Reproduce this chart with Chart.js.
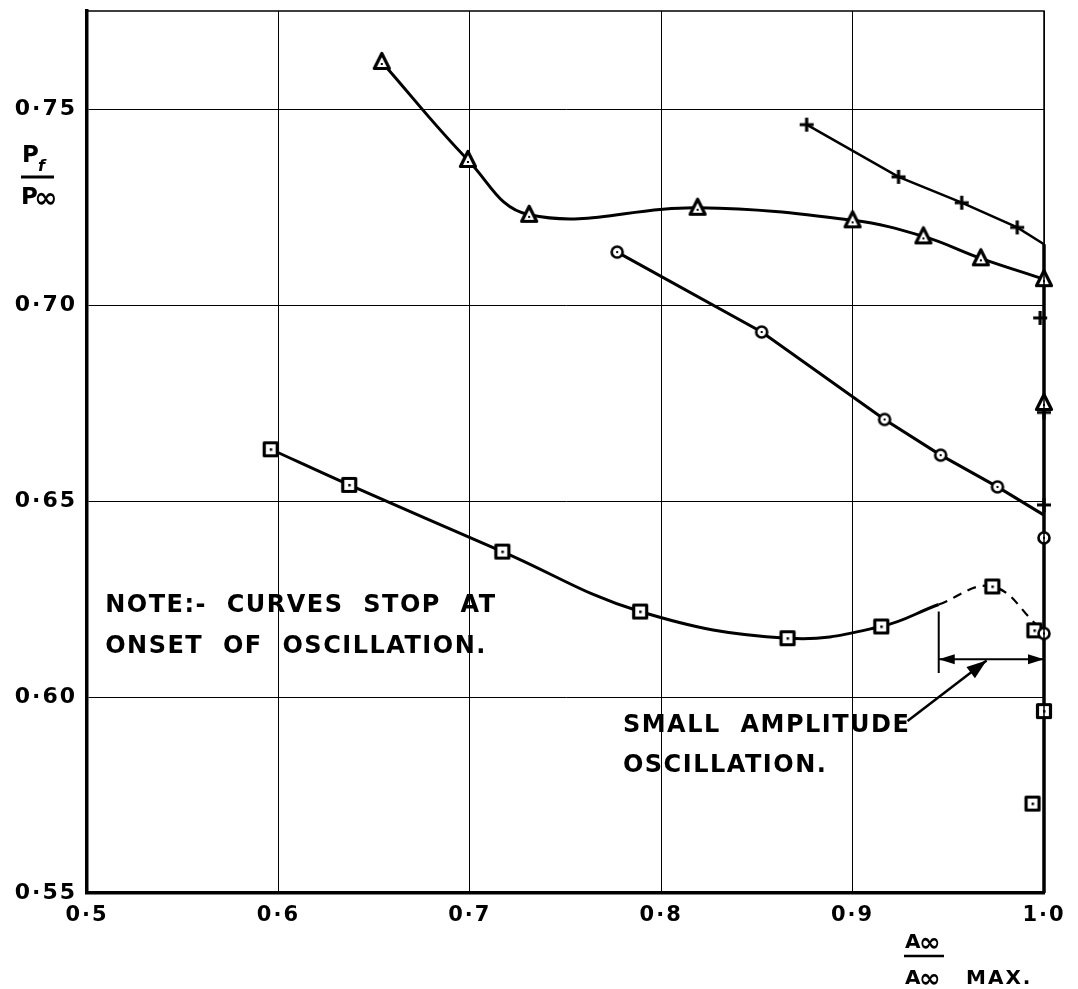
<!DOCTYPE html>
<html>
<head>
<meta charset="utf-8">
<title>Pf / P∞ against A∞ / A∞ max</title>
<script src="https://cdn.jsdelivr.net/npm/chart.js@4.4.1/dist/chart.umd.min.js"></script>
<style>
  body { margin: 0; background: #fff; }
  #wrap { width: 1078px; height: 989px; }
</style>
</head>
<body>
<div id="wrap"><canvas id="pfChart"></canvas></div>
<script>
// --- axis ticks ---
const xTicks = [0.5, 0.6, 0.7, 0.8, 0.9, 1.0];
const xTickLabels = ['0·5', '0·6', '0·7', '0·8', '0·9', '1·0'];
const yTicks = [0.55, 0.60, 0.65, 0.70, 0.75];
const yTickLabels = ['0·55', '0·60', '0·65', '0·70', '0·75'];

// --- triangles (curve up to onset, then the point after onset) ---
const triX = [0.654, 0.699, 0.731, 0.819, 0.900, 0.937, 0.967, 1.0];
const triY = [0.762, 0.737, 0.723, 0.7248, 0.7216, 0.7175, 0.7119, 0.7066];
const triOscX = [1.0];
const triOscY = [0.675];

// --- crosses ---
const plusX = [0.876, 0.924, 0.957, 0.986, 1.0];
const plusY = [0.746, 0.7327, 0.7261, 0.7198, 0.7155];
const plusMark = [1, 1, 1, 1, 0];
const plusOscX = [0.998, 1.0, 1.0];
const plusOscY = [0.6967, 0.6726, 0.649];

// --- circles ---
const cirX = [0.777, 0.8525, 0.9167, 0.946, 0.9757, 1.0];
const cirY = [0.7135, 0.6931, 0.6708, 0.6617, 0.6536, 0.6464];
const cirMark = [1, 1, 1, 1, 1, 0];
const cirOscX = [1.0, 1.0];
const cirOscY = [0.6406, 0.6162];

// --- squares (dashed from index 6 on) ---
const sqX = [0.596, 0.637, 0.717, 0.789, 0.866, 0.915, 0.945, 0.973, 0.997];
const sqY = [0.6632, 0.6541, 0.6371, 0.6218, 0.615, 0.618, 0.6236, 0.6282, 0.618];
const sqMark = [1, 1, 1, 1, 1, 1, 0, 1, 0];
const sqDashFrom = 6;
const sqOscX = [0.995, 1.0, 0.994];
const sqOscY = [0.617, 0.5964, 0.5728];

// --- onset line along A/Amax = 1 ---
const onsetX = [1.0, 1.0];
const onsetY = [0.7155, 0.55];

// --- "small amplitude oscillation" range marker ---
const rangeX = [0.945, 1.0];
const rangeBarY = [0.6061, 0.6218];
const rangeArrowY = 0.6096;
const leaderFrom = [0.9287, 0.5939];
const leaderTo = [0.970, 0.6093];

const FONT = "'DejaVu Sans', sans-serif";

function pts(xs, ys) {
  return xs.map((x, i) => ({ x: x, y: ys[i] }));
}

function radii(marks) {
  return marks.map(m => m ? 8 : 0);
}

// little marker images, drawn like the hand plotted symbols
function makeMarker(kind) {
  const s = 22;
  const c = document.createElement('canvas');
  c.width = s; c.height = s;
  const g = c.getContext('2d');
  const m = s / 2;
  g.strokeStyle = '#000';
  g.fillStyle = '#fff';
  g.lineJoin = 'round';
  if (kind === 'triangle') {
    g.lineWidth = 3.2;
    g.beginPath();
    g.moveTo(m, 2.5); g.lineTo(m + 7.5, m + 6.5); g.lineTo(m - 7.5, m + 6.5);
    g.closePath(); g.fill(); g.stroke();
    g.fillStyle = '#000'; g.fillRect(m - 1, m + 1, 2, 2);
  } else if (kind === 'square') {
    g.lineWidth = 3.2;
    g.beginPath(); g.rect(m - 6.5, m - 6.5, 13, 13); g.fill(); g.stroke();
    g.fillStyle = '#000'; g.fillRect(m - 1, m - 1, 2.5, 2.5);
  } else if (kind === 'circle') {
    g.lineWidth = 2.6;
    g.beginPath(); g.arc(m, m, 5.5, 0, Math.PI * 2); g.fill(); g.stroke();
    g.fillStyle = '#000'; g.fillRect(m - 1, m - 1, 2, 2);
  } else if (kind === 'plus') {
    g.lineWidth = 3.2;
    g.beginPath();
    g.moveTo(m - 7, m); g.lineTo(m + 7, m);
    g.moveTo(m, m - 7); g.lineTo(m, m + 7);
    g.stroke();
  }
  return c;
}

const mTri = makeMarker('triangle');
const mSq = makeMarker('square');
const mCir = makeMarker('circle');
const mPlus = makeMarker('plus');

function curve(data, marker, marks, extra) {
  return Object.assign({
    data: data,
    showLine: true,
    borderColor: '#000',
    borderWidth: 3,
    pointStyle: marker,
    pointRadius: radii(marks),
    pointBackgroundColor: '#fff',
    pointBorderColor: '#000',
    clip: false
  }, extra || {});
}

function scatterOnly(data, marker) {
  return {
    data: data,
    showLine: false,
    pointStyle: marker,
    pointRadius: 8,
    clip: false
  };
}

function tickLabel(ticks, labels) {
  return v => {
    const i = ticks.findIndex(t => Math.abs(t - v) < 1e-6);
    return i >= 0 ? labels[i] : '';
  };
}

// frame, fraction titles and notes
const extras = {
  id: 'extras',
  beforeDraw(chart) {
    const ctx = chart.ctx;
    ctx.save();
    ctx.fillStyle = '#fff';
    ctx.fillRect(0, 0, chart.width, chart.height);
    ctx.restore();
    ctx.letterSpacing = '2px';
  },
  afterDraw(chart) {
    const ctx = chart.ctx;
    const a = chart.chartArea;
    const xs = chart.scales.x, ys = chart.scales.y;
    const X = v => xs.getPixelForValue(v);
    const Y = v => ys.getPixelForValue(v);

    ctx.save();
    ctx.strokeStyle = '#000';
    ctx.fillStyle = '#000';

    // top and right edges of the frame
    ctx.lineWidth = 1.5;
    ctx.beginPath();
    ctx.moveTo(a.left, a.top); ctx.lineTo(a.right, a.top); ctx.lineTo(a.right, a.bottom);
    ctx.stroke();

    // range marker
    ctx.lineWidth = 2;
    ctx.beginPath();
    ctx.moveTo(X(rangeX[0]), Y(rangeBarY[0])); ctx.lineTo(X(rangeX[0]), Y(rangeBarY[1]));
    ctx.moveTo(X(rangeX[0]), Y(rangeArrowY)); ctx.lineTo(X(rangeX[1]), Y(rangeArrowY));
    ctx.stroke();
    arrowHead(ctx, X(rangeX[1]) - 20, Y(rangeArrowY), X(rangeX[1]), Y(rangeArrowY), 16, 5);
    arrowHead(ctx, X(rangeX[0]) + 20, Y(rangeArrowY), X(rangeX[0]), Y(rangeArrowY), 16, 5);

    // leader arrow
    ctx.lineWidth = 2.5;
    const fx = X(leaderFrom[0]), fy = Y(leaderFrom[1]);
    const tx = X(leaderTo[0]), ty = Y(leaderTo[1]);
    ctx.beginPath(); ctx.moveTo(fx, fy); ctx.lineTo(tx, ty); ctx.stroke();
    arrowHead(ctx, fx, fy, tx, ty, 20, 7);

    // notes
    ctx.letterSpacing = '1.5px';
    ctx.font = 'bold 24px ' + FONT;
    ctx.textBaseline = 'middle';
    ctx.textAlign = 'left';
    ctx.fillText('NOTE:-  CURVES  STOP  AT', X(0.5095), Y(0.6233));
    ctx.fillText('ONSET  OF  OSCILLATION.', X(0.5095), Y(0.6127));
    ctx.fillText('SMALL  AMPLITUDE', X(0.780), Y(0.5926));
    ctx.fillText('OSCILLATION.', X(0.780), Y(0.5825));

    // y title  Pf / P∞
    ctx.letterSpacing = '0px';
    ctx.textBaseline = 'alphabetic';
    ctx.font = 'bold 23px ' + FONT;
    ctx.fillText('P', 22, 162);
    ctx.font = 'italic bold 16px ' + FONT;
    ctx.fillText('f', 38, 171);
    ctx.lineWidth = 3;
    ctx.beginPath(); ctx.moveTo(21, 177); ctx.lineTo(54, 177); ctx.stroke();
    ctx.font = 'bold 23px ' + FONT;
    ctx.fillText('P', 21, 204);
    ctx.font = 'bold 28px ' + FONT;
    ctx.fillText('∞', 34, 207);

    // x title  A∞ / A∞ MAX.
    ctx.font = 'bold 20px ' + FONT;
    ctx.fillText('A', 905, 948);
    ctx.font = 'bold 26px ' + FONT;
    ctx.fillText('∞', 919, 951);
    ctx.lineWidth = 2.5;
    ctx.beginPath(); ctx.moveTo(904, 956); ctx.lineTo(944, 956); ctx.stroke();
    ctx.font = 'bold 20px ' + FONT;
    ctx.fillText('A', 905, 984);
    ctx.font = 'bold 26px ' + FONT;
    ctx.fillText('∞', 919, 987);
    ctx.letterSpacing = '2px';
    ctx.font = 'bold 20px ' + FONT;
    ctx.fillText('MAX.', 966, 984);
    ctx.restore();
  }
};

function arrowHead(ctx, fx, fy, tx, ty, len, half) {
  const ang = Math.atan2(ty - fy, tx - fx);
  ctx.beginPath();
  ctx.moveTo(tx, ty);
  ctx.lineTo(tx - len * Math.cos(ang) + half * Math.sin(ang), ty - len * Math.sin(ang) - half * Math.cos(ang));
  ctx.lineTo(tx - len * Math.cos(ang) - half * Math.sin(ang), ty - len * Math.sin(ang) + half * Math.cos(ang));
  ctx.closePath();
  ctx.fill();
}

const ctx = document.getElementById('pfChart').getContext('2d');

new Chart(ctx, {
  type: 'scatter',
  data: {
    datasets: [
      scatterOnly(pts(triOscX, triOscY), mTri),
      scatterOnly(pts(plusOscX, plusOscY), mPlus),
      scatterOnly(pts(cirOscX, cirOscY), mCir),
      scatterOnly(pts(sqOscX, sqOscY), mSq),
      curve(pts(triX, triY), mTri, triX.map(() => 1), { tension: 0.4 }),
      curve(pts(plusX, plusY), mPlus, plusMark, { tension: 0, borderWidth: 2.5 }),
      curve(pts(cirX, cirY), mCir, cirMark, { tension: 0 }),
      curve(pts(sqX, sqY), mSq, sqMark, {
        tension: 0.4,
        segment: {
          borderDash: c => c.p0DataIndex >= sqDashFrom ? [9, 7] : undefined,
          borderWidth: c => c.p0DataIndex >= sqDashFrom ? 2.2 : undefined
        }
      }),
      {
        data: pts(onsetX, onsetY),
        showLine: true,
        borderColor: '#000',
        borderWidth: 3.5,
        pointRadius: 0,
        clip: false
      }
    ]
  },
  options: {
    responsive: true,
    maintainAspectRatio: false,
    animation: false,
    events: [],
    layout: { padding: { left: 0, top: 7, right: 34, bottom: 0 } },
    plugins: {
      legend: { display: false },
      tooltip: { enabled: false }
    },
    scales: {
      x: {
        type: 'linear',
        min: 0.5,
        max: 1.0,
        afterBuildTicks: axis => { axis.ticks = xTicks.map(v => ({ value: v })); },
        afterFit: axis => { axis.height = 96; axis.paddingLeft = 0; axis.paddingRight = 0; },
        ticks: {
          callback: tickLabel(xTicks, xTickLabels),
          color: '#000',
          padding: 10,
          maxRotation: 0,
          font: { family: FONT, size: 21, weight: 'bold' }
        },
        grid: { color: '#000', lineWidth: 1, drawTicks: false },
        border: { display: true, color: '#000', width: 3.5 }
      },
      y: {
        type: 'linear',
        min: 0.55,
        max: 0.775,
        afterBuildTicks: axis => { axis.ticks = yTicks.map(v => ({ value: v })); },
        afterFit: axis => { axis.width = 87; axis.paddingTop = 0; axis.paddingBottom = 0; },
        ticks: {
          callback: tickLabel(yTicks, yTickLabels),
          color: '#000',
          padding: 10,
          font: { family: FONT, size: 22, weight: 'bold' }
        },
        grid: { color: '#000', lineWidth: 1, drawTicks: false },
        border: { display: true, color: '#000', width: 3.5 }
      }
    }
  },
  plugins: [extras]
});
</script>
</body>
</html>
